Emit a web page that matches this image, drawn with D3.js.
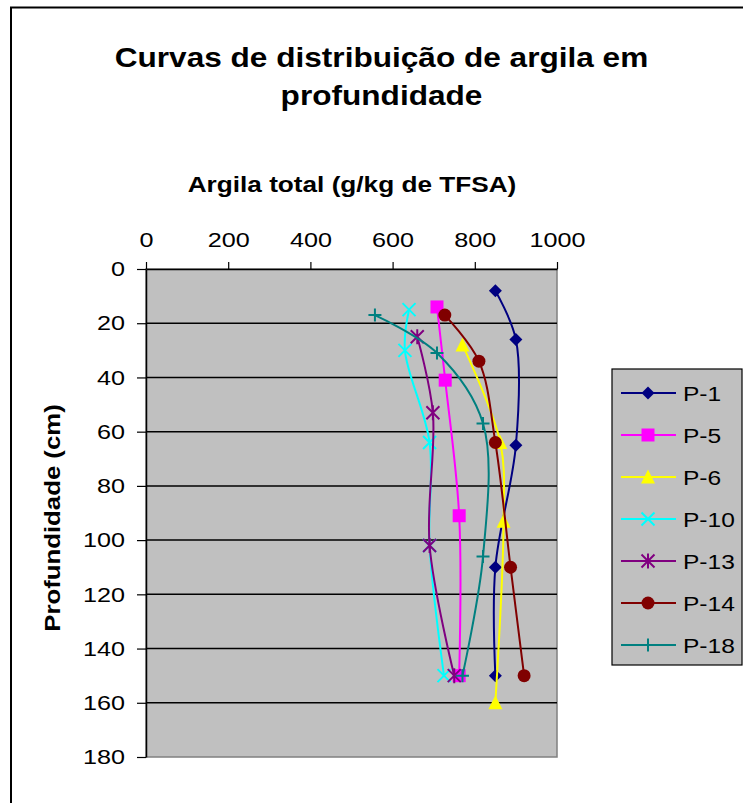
<!DOCTYPE html>
<html>
<head>
<meta charset="utf-8">
<script src="https://cdn.jsdelivr.net/npm/d3@7"></script>
<style>
  html, body { margin: 0; padding: 0; background: #fff; }
  svg { display: block; font-family: "Liberation Sans", Arial, sans-serif; }
</style>
</head>
<body>
<svg id="chart" width="743" height="803"></svg>
<script>
// Clay content (g/kg) against depth (cm) for each soil profile
const seriesNames = ["P-1", "P-5", "P-6", "P-10", "P-13", "P-14", "P-18"];
const p1Depth  = [8, 26, 65, 110, 150];
const p1Clay   = [850, 900, 900, 850, 850];
const p5Depth  = [14, 41, 91, 150];
const p5Clay   = [708, 728, 762, 762];
const p6Depth  = [28, 64, 93, 160];
const p6Clay   = [770, 862, 870, 850];
const p10Depth = [15, 30, 64, 102, 150];
const p10Clay  = [640, 630, 690, 690, 725];
const p13Depth = [25, 53, 102, 150];
const p13Clay  = [660, 698, 690, 750];
const p14Depth = [17, 34, 64, 110, 150];
const p14Clay  = [727, 810, 850, 887, 920];
const p18Depth = [17, 31, 57, 106, 150];
const p18Clay  = [557, 708, 820, 820, 770];

const xTicks = [0, 200, 400, 600, 800, 1000];
const yTicks = [0, 20, 40, 60, 80, 100, 120, 140, 160, 180];

const depths = [p1Depth, p5Depth, p6Depth, p10Depth, p13Depth, p14Depth, p18Depth];
const clays  = [p1Clay, p5Clay, p6Clay, p10Clay, p13Clay, p14Clay, p18Clay];
const colors = ["#000080", "#ff00ff", "#ffff00", "#00ffff", "#800080", "#800000", "#008080"];
const markers = ["diamond", "square", "triangle", "x", "asterisk", "circle", "plus"];

const series = seriesNames.map((name, i) => ({
  name,
  color: colors[i],
  marker: markers[i],
  points: depths[i].map((d, j) => ({ depth: d, clay: clays[i][j] }))
}));

// Widen glyphs horizontally around each text's own anchor point
function widen(sel, factor) {
  sel.each(function () {
    const t = d3.select(this);
    const ax = +t.attr("x") || 0, ay = +t.attr("y") || 0;
    t.attr("transform", `translate(${ax},${ay}) scale(${factor},1) translate(${-ax},${-ay})`);
  });
}

const svg = d3.select("#chart");

// Outer chart frame (left and top edges)
svg.append("path")
  .attr("d", "M11,803 V7.5 H743")
  .attr("fill", "none").attr("stroke", "#000").attr("stroke-width", 2);

// Title
const titleLines = ["Curvas de distribuição de argila em", "profundidade"];
svg.append("g").selectAll("text")
  .data(titleLines)
  .join("text")
  .attr("x", 381.5).attr("y", (d, i) => 67 + i * 38)
  .attr("text-anchor", "middle")
  .attr("font-size", 27).attr("font-weight", "bold").attr("fill", "#000")
  .text(d => d)
  .call(widen, 1.17);

const x = d3.scaleLinear().domain([0, 1000]).range([146, 557]);
const y = d3.scaleLinear().domain([0, 180]).range([269, 757]);

// Plot area
svg.append("rect")
  .attr("x", x(0)).attr("y", y(0))
  .attr("width", x(1000) - x(0)).attr("height", y(180) - y(0))
  .attr("fill", "#c0c0c0").attr("stroke", "#808080").attr("stroke-width", 1.5);

// Horizontal gridlines
svg.append("g").selectAll("line")
  .data(yTicks.filter(t => t > 0 && t < 180))
  .join("line")
  .attr("x1", x(0)).attr("x2", x(1000))
  .attr("y1", d => y(d)).attr("y2", d => y(d))
  .attr("stroke", "#000").attr("stroke-width", 1.5);

// Top x axis
const xAxis = svg.append("g")
  .attr("transform", `translate(0,${y(0)})`)
  .call(d3.axisTop(x).tickValues(xTicks).tickFormat(d3.format("d"))
    .tickSize(7).tickSizeOuter(0).tickPadding(15));
xAxis.selectAll("text").attr("font-size", 21).attr("fill", "#000")
  .attr("font-family", "Liberation Sans, Arial, sans-serif").call(widen, 1.2);
xAxis.selectAll("line").attr("stroke", "#000").attr("stroke-width", 1.2);
xAxis.select(".domain").attr("stroke", "#000").attr("stroke-width", 1.5);

// Left y axis
const yAxis = svg.append("g")
  .attr("transform", `translate(${x(0)},0)`)
  .call(d3.axisLeft(y).tickValues(yTicks).tickFormat(d3.format("d"))
    .tickSize(9).tickSizeOuter(0).tickPadding(12));
yAxis.selectAll("text").attr("font-size", 21).attr("fill", "#000")
  .attr("font-family", "Liberation Sans, Arial, sans-serif").call(widen, 1.2);
yAxis.selectAll("line").attr("stroke", "#000").attr("stroke-width", 1.2);
yAxis.select(".domain").attr("stroke", "#000").attr("stroke-width", 1.5);

// Axis titles
svg.append("text")
  .attr("x", 352).attr("y", 192)
  .attr("text-anchor", "middle").attr("font-size", 22).attr("font-weight", "bold")
  .text("Argila total (g/kg de TFSA)")
  .call(widen, 1.19);
svg.append("text")
  .attr("transform", "translate(60,518) rotate(-90) scale(1.12,1)")
  .attr("text-anchor", "middle").attr("font-size", 23).attr("font-weight", "bold")
  .text("Profundidade (cm)");

// Marker drawing
function drawMarker(g, type, color) {
  const s = 6.5;
  if (type === "diamond") {
    g.append("path").attr("d", `M0,${-s} L${s},0 L0,${s} L${-s},0Z`).attr("fill", color);
  } else if (type === "square") {
    g.append("rect").attr("x", -s).attr("y", -s).attr("width", 2 * s).attr("height", 2 * s).attr("fill", color);
  } else if (type === "triangle") {
    g.append("path").attr("d", `M0,${-s - 1} L${s + 0.5},${s} L${-s - 0.5},${s}Z`).attr("fill", color);
  } else if (type === "circle") {
    g.append("circle").attr("r", s).attr("fill", color);
  } else if (type === "x") {
    g.append("path").attr("d", `M${-s},${-s} L${s},${s} M${-s},${s} L${s},${-s}`)
      .attr("stroke", color).attr("stroke-width", 2).attr("fill", "none");
  } else if (type === "asterisk") {
    g.append("path").attr("d", `M${-s},${-s} L${s},${s} M${-s},${s} L${s},${-s} M0,${-s - 1} L0,${s + 1}`)
      .attr("stroke", color).attr("stroke-width", 2).attr("fill", "none");
  } else if (type === "plus") {
    g.append("path").attr("d", `M${-s},0 L${s},0 M0,${-s} L0,${s}`)
      .attr("stroke", color).attr("stroke-width", 2).attr("fill", "none");
  }
}

// Smoothed profile curves
const line = d3.line()
  .x(d => x(d.clay))
  .y(d => y(d.depth))
  .curve(d3.curveCatmullRom.alpha(0.5));

const plot = svg.append("g");
series.forEach(s => {
  const g = plot.append("g");
  g.append("path")
    .attr("d", line(s.points))
    .attr("fill", "none").attr("stroke", s.color).attr("stroke-width", 2);
  s.points.forEach(p => {
    const m = g.append("g").attr("transform", `translate(${x(p.clay)},${y(p.depth)})`);
    drawMarker(m, s.marker, s.color);
  });
});

// Legend
const legend = svg.append("g");
legend.append("rect")
  .attr("x", 612).attr("y", 369).attr("width", 130).attr("height", 296)
  .attr("fill", "#c0c0c0").attr("stroke", "#000").attr("stroke-width", 1.2);
series.forEach((s, i) => {
  const ly = 393 + i * 42;
  const row = legend.append("g");
  row.append("line").attr("x1", 621).attr("x2", 676).attr("y1", ly).attr("y2", ly)
    .attr("stroke", s.color).attr("stroke-width", 2);
  const m = row.append("g").attr("transform", `translate(648,${ly})`);
  drawMarker(m, s.marker, s.color);
  row.append("text").attr("x", 683).attr("y", ly).attr("dy", "0.36em")
    .attr("font-size", 21).attr("fill", "#000").text(s.name)
    .call(widen, 1.17);
});
</script>
</body>
</html>
